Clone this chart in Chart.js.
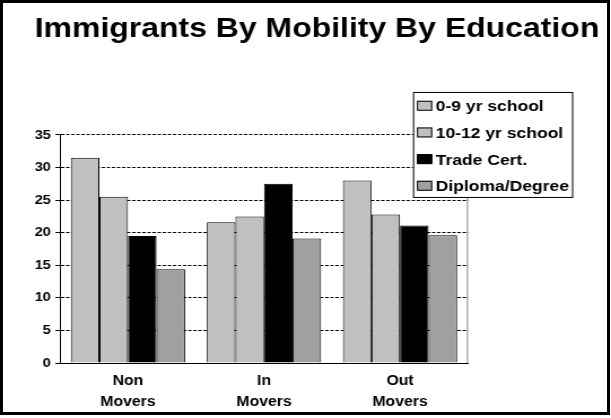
<!DOCTYPE html>
<html><head><meta charset="utf-8">
<script src="https://cdn.jsdelivr.net/npm/chart.js@4"></script>
<style>
html,body{margin:0;padding:0;background:#fff;overflow:hidden}
#stage{position:relative;width:611px;height:418px;background:#fff}
#wrap{position:absolute;left:0;top:0;width:541px;height:418px;transform:scaleX(1.12939);transform-origin:0 0}
#frame{position:absolute;left:0;top:0;width:604px;height:409px;border:3px solid #000;pointer-events:none}
</style></head><body>
<div id="stage"><div id="wrap"><canvas id="c" width="541" height="418"></canvas></div><div id="frame"></div></div>
<script>
// ---- data ----
const categories = [["Non", "Movers"], ["In", "Movers"], ["Out", "Movers"]];
const seriesNames = ["0-9 yr school", "10-12 yr school", "Trade Cert.", "Diploma/Degree"];
const school0to9 = [31.5, 21.6, 28.0];
const school10to12 = [25.5, 22.5, 22.8];
const tradeCert = [19.5, 27.5, 21.1];
const diplomaDegree = [14.4, 19.1, 19.6];
const yTicks = [0, 5, 10, 15, 20, 25, 30, 35];
const titleText = "Immigrants By Mobility By Education";

// ---- styles ----
const seriesColors = ["#c0c0c0", "#c0c0c0", "#000000", "#a0a0a0"];
const FONT = '"Liberation Sans", Arial, Helvetica, sans-serif';
Chart.defaults.font.family = FONT;
Chart.defaults.color = '#000';

const seriesValues = [school0to9, school10to12, tradeCert, diplomaDegree];

const plotBorder = {
  id: 'plotBorder',
  beforeDatasetsDraw(chart) {
    const {ctx, chartArea: a} = chart;
    ctx.save();
    ctx.strokeStyle = '#808080';
    ctx.lineWidth = 1;
    ctx.beginPath();
    ctx.moveTo(a.right - 0.5, a.top);
    ctx.lineTo(a.right - 0.5, a.bottom);
    ctx.stroke();
    ctx.restore();
  }
};

const boxLegend = {
  id: 'boxLegend',
  afterDraw(chart) {
    const {ctx, chartArea: a} = chart;
    const x0 = a.right - 48.7, y0 = a.top - 43, w = 140.8, h = 105;
    ctx.save();
    ctx.fillStyle = '#fff';
    ctx.fillRect(x0, y0, w, h);
    ctx.strokeStyle = '#000';
    ctx.lineWidth = 1;
    ctx.strokeRect(x0 + 0.5, y0 + 0.5, w, h);
    ctx.font = 'bold 15.5px ' + FONT;
    ctx.textAlign = 'left';
    ctx.textBaseline = 'alphabetic';
    chart.data.datasets.forEach((ds, i) => {
      const base = y0 + 19.3 + i * 26.67;
      const sx = x0 + 3.5;
      ctx.fillStyle = ds.backgroundColor;
      ctx.fillRect(sx, base - 10.5, 13.5, 10);
      ctx.strokeStyle = '#000';
      ctx.strokeRect(sx + 0.5, base - 10, 12.5, 9);
      ctx.fillStyle = '#000';
      ctx.fillText(ds.label, x0 + 20.1, base);
    });
    ctx.restore();
  }
};

new Chart(document.getElementById('c'), {
  type: 'bar',
  data: {
    labels: categories,
    datasets: seriesNames.map((name, i) => ({
      label: name,
      data: seriesValues[i],
      backgroundColor: seriesColors[i],
      borderColor: '#000',
      borderWidth: 1,
      barPercentage: 1.0,
      categoryPercentage: 0.84
    }))
  },
  options: {
    responsive: false,
    animation: false,
    layout: { padding: { left: 30.7, right: 0, top: 0, bottom: 0 } },
    plugins: {
      legend: { display: false },
      tooltip: { enabled: false },
      title: {
        display: true,
        text: titleText,
        align: 'start',
        color: '#000',
        font: { size: 28.3, weight: 'bold', family: FONT, lineHeight: 1.2 },
        padding: { top: 12, bottom: 89 }
      }
    },
    scales: {
      x: {
        grid: { display: false, drawTicks: false, tickLength: 0 },
        border: { display: true, color: '#000', width: 1 },
        ticks: {
          color: '#000',
          font: { size: 14, weight: 'bold', lineHeight: 1.5 },
          padding: 7.5,
          maxRotation: 0
        },
        afterFit(s) { s.height = 55; }
      },
      y: {
        min: 0, max: 35,
        afterBuildTicks(s) { s.ticks = yTicks.map(v => ({ value: v })); },
        grid: { color: '#000', lineWidth: 1, tickLength: 4, tickColor: '#000' },
        border: { display: true, color: '#000', width: 1, dash: [3, 1.5] },
        ticks: {
          color: '#000',
          font: { size: 13, weight: 'bold' },
          padding: 4
        },
        afterFit(s) { s.width = 22.4; }
      },
      ySpacer: {
        type: 'linear',
        position: 'right',
        display: true,
        grid: { display: false, drawTicks: false },
        border: { display: false },
        ticks: { display: false },
        afterFit(s) { s.width = 126.6; }
      }
    }
  },
  plugins: [plotBorder, boxLegend]
});
</script>
</body></html>
